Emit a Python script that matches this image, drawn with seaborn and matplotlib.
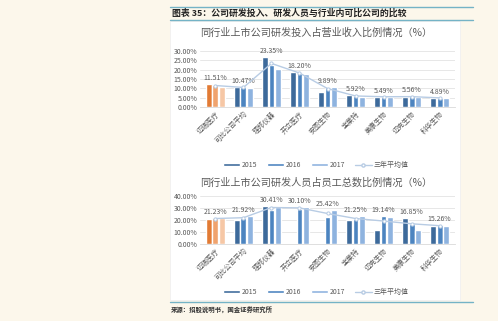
import numpy as np
import pandas as pd
import matplotlib
matplotlib.use('Agg')
import matplotlib.pyplot as plt
import seaborn as sns
from matplotlib.patches import Rectangle, Patch
from matplotlib.lines import Line2D
from matplotlib.ticker import FuncFormatter

sns.set_style('white')
plt.rcParams['font.family'] = ['Noto Sans CJK SC', 'DejaVu Sans']

years = ['2015', '2016', '2017']

# 研发投入占营业收入比例
rd_companies = ['迈瑞医疗', '可比公司平均', '理邦仪器', '开立医疗', '安图生物', '宝莱特', '美康生物', '迈克生物', '科华生物']
rd_2015 = [12.3, 10.5, 27.0, 18.5, 8.0, 6.5, 5.5, 5.6, 5.0]
rd_2016 = [11.6, 10.5, 22.5, 18.2, 10.8, 5.8, 5.5, 5.7, 5.0]
rd_2017 = [10.6, 10.4, 20.5, 17.9, 10.9, 5.5, 5.5, 5.4, 4.7]
rd_avg = [11.51, 10.47, 23.35, 18.20, 9.89, 5.92, 5.49, 5.56, 4.89]

# 研发人员占员工总数比例
staff_companies = ['迈瑞医疗', '可比公司平均', '理邦仪器', '开立医疗', '安图生物', '宝莱特', '迈克生物', '美康生物', '科华生物']
staff_2015 = [20.5, 20.2, 31.5, np.nan, np.nan, 20.0, 11.5, 22.0, 15.0]
staff_2016 = [21.5, 22.0, 28.5, 29.2, 22.5, 20.5, 23.5, 16.6, 16.0]
staff_2017 = [21.7, 23.5, 31.2, 31.0, 28.3, 23.3, 22.4, 12.0, 14.8]
staff_avg = [21.23, 21.92, 30.41, 30.10, 25.42, 21.25, 19.14, 16.85, 15.26]

blue = ['#3D6A9B', '#4C84C0', '#8EB3DF']
orange = ['#E27B35', '#F0A36E', '#F6C7A5']
line_c = '#B8CCE4'
txt_c = '#595959'


def draw_chart(ax, companies, v15, v16, v17, avg, ymax, step):
    df = pd.DataFrame({
        'company': companies * 3,
        'year': [y for y in years for _ in companies],
        'value': v15 + v16 + v17,
    })
    sns.barplot(data=df, x='company', y='value', hue='year', order=companies,
                hue_order=years, palette=blue, width=0.7, gap=0.1,
                saturation=1, legend=False, ax=ax, errorbar=None)
    # 迈瑞医疗 in orange
    for k, cont in enumerate(ax.containers):
        for bar in cont:
            if bar.get_x() + bar.get_width() / 2 < 0.5:
                bar.set_facecolor(orange[k])
    xs = np.arange(len(companies))
    sns.lineplot(x=xs, y=avg, ax=ax, color=line_c, lw=1.0, marker='o',
                 markersize=2.3, markerfacecolor='white', markeredgecolor=line_c, zorder=5)
    tops = np.nanmax(np.array([v15, v16, v17]), axis=0)
    for i, a in enumerate(avg):
        ax.annotate(f'{a:.2f}%', (i, max(tops[i], a)), xytext=(0, 1.5),
                    textcoords='offset points', ha='center', va='bottom',
                    fontsize=5, color=txt_c)
    ax.set_ylim(0, ymax)
    ax.set_xlim(-0.55, len(companies) - 0.45)
    ax.set_yticks(np.arange(0, ymax + 0.1, step))
    ax.yaxis.set_major_formatter(FuncFormatter(lambda v, p: f'{v:.2f}%'))
    ax.grid(axis='y', color='#E3E3E3', lw=0.6)
    ax.set_axisbelow(True)
    for s in ['top', 'right', 'left']:
        ax.spines[s].set_visible(False)
    ax.spines['bottom'].set_color('#D9D9D9')
    ax.spines['bottom'].set_linewidth(0.6)
    ax.tick_params(axis='both', length=0, labelsize=5, colors=txt_c, pad=2)
    ax.set_xticks(xs)
    ax.set_xticklabels(companies, rotation=45, ha='right', rotation_mode='anchor')
    ax.set_xlabel('')
    ax.set_ylabel('')
    ax.set_facecolor('white')


fig = plt.figure(figsize=(4.98, 3.21), dpi=100)
fig.patch.set_facecolor('#FCF7EB')

# white panel and header lines
fig.add_artist(Rectangle((170 / 498, 1 - 300 / 321), 290 / 498, 279 / 321,
                         transform=fig.transFigure, facecolor='white',
                         edgecolor='#EEEEEE', lw=0.5, zorder=0))
for yy in [7, 20, 302]:
    fig.add_artist(Line2D([170 / 498, 473 / 498], [1 - yy / 321] * 2,
                          transform=fig.transFigure, color='#74B3C6', lw=1.0))
fig.text(172 / 498, 1 - 13.5 / 321, '图表 35：公司研发投入、研发人员与行业内可比公司的比较',
         fontsize=6.4, fontweight='bold', color='#222222', va='center')
fig.text(171 / 498, 1 - 310 / 321, '来源：招股说明书，国金证券研究所',
         fontsize=4.6, fontweight='bold', color='#333333', va='center')

ax1 = fig.add_axes([200 / 498, 1 - 107 / 321, 255 / 498, 56 / 321])
draw_chart(ax1, rd_companies, rd_2015, rd_2016, rd_2017, rd_avg, 30, 5)
fig.text(316 / 498, 1 - 33 / 321, '同行业上市公司研发投入占营业收入比例情况（%）',
         fontsize=7.3, color=txt_c, ha='center', va='center')

ax2 = fig.add_axes([200 / 498, 1 - 244 / 321, 255 / 498, 48 / 321])
draw_chart(ax2, staff_companies, staff_2015, staff_2016, staff_2017, staff_avg, 40, 10)
fig.text(316 / 498, 1 - 183 / 321, '同行业上市公司研发人员占员工总数比例情况（%）',
         fontsize=7.3, color=txt_c, ha='center', va='center')

handles = [Patch(facecolor=blue[0]), Patch(facecolor=blue[1]), Patch(facecolor=blue[2]),
           Line2D([], [], color=line_c, marker='o', markersize=2.3,
                  markerfacecolor='white', markeredgecolor=line_c, lw=1.0)]
labels = years + ['三年平均值']
for yy in [165, 292]:
    fig.legend(handles, labels, loc='center', bbox_to_anchor=(316 / 498, 1 - yy / 321),
               ncol=4, frameon=False, fontsize=5, labelcolor=txt_c,
               handlelength=2.4, handleheight=0.4, handletextpad=0.3,
               columnspacing=1.4)

fig.savefig('out.png', dpi=100, facecolor=fig.get_facecolor())
